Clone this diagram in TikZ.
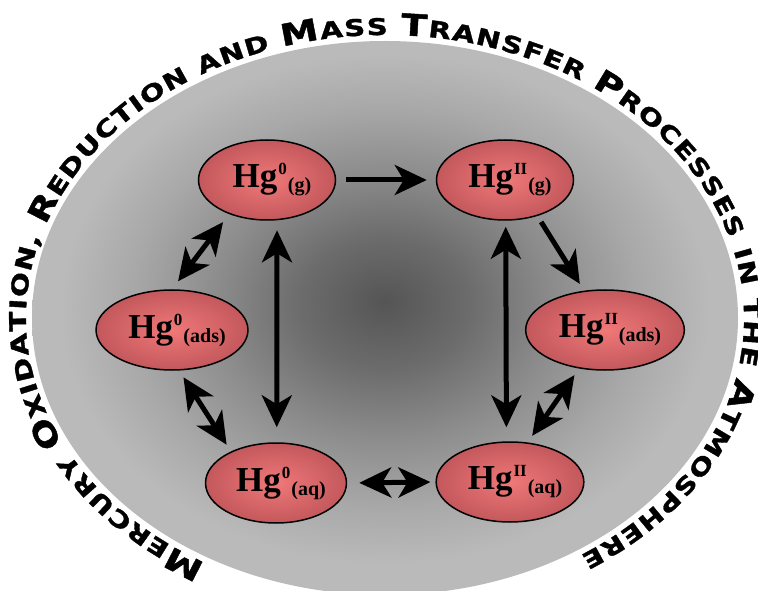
\documentclass[tikz,border=0pt]{standalone}
\usepackage{fontspec}
\setmainfont{Liberation Serif}
\newfontfamily\titlefont[FakeStretch=1.27,FakeBold=1.5]{DejaVu Sans}
\usetikzlibrary{shapes.geometric,arrows.meta,decorations.text}
\definecolor{gA}{RGB}{85,85,85}
\definecolor{gB}{RGB}{108,108,108}
\definecolor{gC}{RGB}{140,140,140}
\definecolor{gD}{RGB}{168,168,168}
\definecolor{gE}{RGB}{186,186,186}
\definecolor{redin}{RGB}{240,120,120}
\definecolor{redout}{RGB}{195,88,92}
\pgfdeclareradialshading{bigshade}{\pgfpoint{0bp}{1.5bp}}{color(0bp)=(gA); color(6bp)=(gB); color(12bp)=(gC); color(18bp)=(gD); color(23bp)=(gE); color(25bp)=(gE); color(50bp)=(gE)}
\def\tc{\titlefont\bfseries\fontsize{30}{30}\selectfont}
\def\ts{\titlefont\bfseries\fontsize{23}{23}\selectfont}
\newcommand\hgtxt[2]{\hspace*{10pt}Hg\hspace{1pt}\raisebox{13pt}{\fontsize{17}{17}\selectfont #1}\hspace{1pt}\raisebox{-4pt}{\fontsize{20}{20}\selectfont #2}}
\tikzset{
  hgnode/.style={ellipse, draw=black, line width=1.5pt, minimum width=137pt, minimum height=80pt, inner sep=0pt, inner color=redin, outer color=redout, font=\bfseries\fontsize{35}{35}\selectfont},
  tipA/.tip={Stealth[length=32pt,width=30pt,inset=9pt]},
  arr/.style={line width=5pt, -tipA},
  dbl/.style={line width=5pt, tipA-tipA}
}
\begin{document}
\begin{tikzpicture}[x=1pt,y=1pt]
\useasboundingbox (0,0) rectangle (758,590);
\begin{scope}
\clip (0,0) rectangle (758,590);
\shade[shading=bigshade] (385,272) ellipse [x radius=353, y radius=277];
\end{scope}
\path[decorate, decoration={text along path, text align=fit to path,
  text={|\tc|M|\ts|ERCURY |\tc|O|\ts|XIDATION, |\tc|R|\ts|EDUCTION AND |\tc|M|\ts|ASS |\tc|T|\ts|RANSFER |\tc|P|\ts|ROCESSES IN THE |\tc|A|\ts|TMOSPHERE}}]
  ([shift={(240:359 and 283)}]385,272) arc[start angle=240, end angle=-57, x radius=359, y radius=283];
\node[hgnode] (g0) at (267,410) {\hgtxt{0}{(g)}};
\node[hgnode] (gII) at (505,410) {\hgtxt{II}{(g)}};
\node[hgnode] (ads0) at (172,260) {\hgtxt{0}{(ads)}};
\node[hgnode] (adsII) at (605,260) {\hgtxt{II}{(ads)}};
\node[hgnode] (aq0) at (276,107) {\hgtxt{0}{(aq)}};
\node[hgnode] (aqII) at (510,108) {\hgtxt{II}{(aq)}};
\draw[arr, shorten <=10pt, shorten >=9pt] (g0.east) -- (gII.west);
\draw[arr, shorten <=7pt, shorten >=8pt] (gII.-48) -- (adsII.118);
\draw[dbl, shorten <=10pt, shorten >=10pt] (g0.222) -- (ads0.90);
\draw[dbl, shorten <=10pt, shorten >=15pt] (g0.-76) -- (aq0.89);
\draw[dbl, shorten <=6pt, shorten >=14pt] (gII.-89) -- (aqII.95);
\draw[dbl, shorten <=8pt, shorten >=8pt] (ads0.280) -- (aq0.145);
\draw[dbl, shorten <=8pt, shorten >=8pt] (adsII.236) -- (aqII.66);
\draw[dbl, shorten <=12pt, shorten >=5pt] (aq0.east) -- (aqII.west);
\end{tikzpicture}
\end{document}
